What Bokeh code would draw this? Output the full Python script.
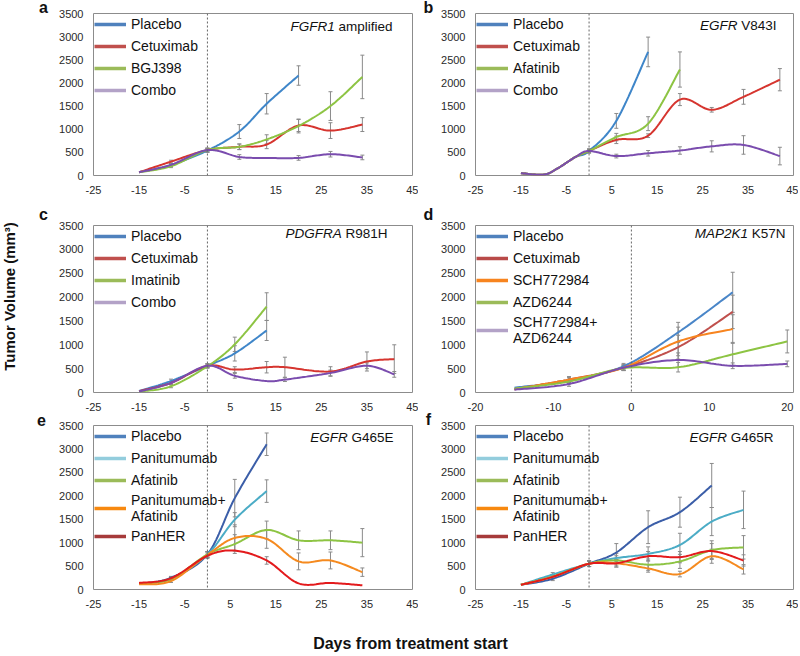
import numpy as np
from bokeh.plotting import figure
from bokeh.models import (Range1d, FixedTicker, Span, Whisker, TeeHead, ColumnDataSource,
                          Legend, LegendItem, Label)
from bokeh.layouts import row, column
from bokeh.embed import file_html
from bokeh.resources import INLINE

# ---------------- data ----------------
y_ticks = [0, 500, 1000, 1500, 2000, 2500, 3000, 3500]
x_ticks_std = [-25, -15, -5, 5, 15, 25, 35, 45]
x_ticks_d = [-20, -10, 0, 10, 20]

# panel a : FGFR1 amplified
a_days = [-15, -8, 0, 7, 13, 20, 27, 34]
a_placebo_days = [-15, -8, 0, 7, 13, 20]
a_placebo = [70, 230, 540, 950, 1550, 2160]
a_placebo_err = [0, 30, 40, 150, 220, 210]
a_cetuximab = [70, 300, 550, 620, 670, 1080, 970, 1100]
a_cetuximab_err = [0, 30, 40, 60, 90, 130, 170, 150]
a_bgj398 = [70, 200, 550, 620, 780, 1070, 1500, 2130]
a_bgj398_err = [0, 30, 40, 60, 100, 150, 310, 470]
a_combo = [70, 230, 550, 400, 380, 380, 460, 390]
a_combo_err = [0, 30, 40, 50, 0, 50, 60, 50]

# panel b : EGFR V843I
b_days = [-15, -10, -7, -3, 0, 6, 13, 20, 27, 34, 42]
b_placebo_days = [-15, -10, -7, -3, 0, 6, 13]
b_placebo = [50, 20, 150, 400, 530, 1180, 2670]
b_placebo_err = [0, 0, 0, 0, 40, 160, 320]
b_afatinib_days = [-15, -10, -7, -3, 0, 6, 13, 20]
b_afatinib = [50, 20, 150, 400, 530, 830, 1120, 2290]
b_afatinib_err = [0, 0, 0, 0, 40, 80, 150, 380]
b_cetuximab = [50, 20, 150, 400, 530, 770, 860, 1640, 1420, 1700, 2070]
b_cetuximab_err = [0, 0, 0, 0, 40, 80, 40, 130, 50, 160, 240]
b_combo = [50, 20, 150, 400, 530, 420, 480, 540, 630, 660, 420]
b_combo_err = [0, 0, 0, 0, 40, 40, 60, 80, 120, 200, 190]

# panel c : PDGFRA R981H
c_days = [-15, -8, 0, 6, 13, 17, 27, 35, 41]
c_short_days = [-15, -8, 0, 6, 13]
c_placebo = [30, 240, 560, 820, 1300]
c_placebo_err = [0, 40, 40, 160, 210]
c_cetuximab = [30, 200, 560, 480, 530, 530, 440, 650, 700]
c_cetuximab_err = [0, 30, 40, 60, 120, 210, 100, 200, 300]
c_imatinib = [20, 130, 550, 1010, 1800]
c_imatinib_err = [0, 30, 40, 150, 290]
c_combo = [20, 200, 560, 350, 240, 270, 410, 560, 380]
c_combo_err = [0, 30, 40, 50, 0, 40, 60, 60, 60]

# panel d : MAP2K1 K57N
d_days = [-15, -8, -1, 6, 13, 20]
d_short_days = [-15, -8, -1, 6, 13]
d_placebo = [100, 250, 550, 1260, 2100]
d_placebo_err = [0, 60, 60, 210, 420]
d_cetuximab = [70, 270, 520, 950, 1690]
d_cetuximab_err = [0, 60, 60, 250, 350]
d_sch = [70, 270, 520, 1070, 1330]
d_sch_err = [0, 60, 60, 300, 300]
d_azd = [80, 230, 510, 530, 800, 1070]
d_azd_err = [0, 50, 50, 100, 250, 240]
d_combo = [60, 180, 520, 680, 560, 600]
d_combo_err = [0, 50, 50, 150, 60, 60]

# panel e : EGFR G465E
e_days = [-15, -8, 0, 6, 13, 20, 27, 34]
e_short_days = [-15, -8, 0, 6, 13]
e_placebo = [120, 250, 750, 1950, 3100]
e_placebo_err = [0, 30, 60, 400, 240]
e_panitumumab = [130, 230, 750, 1490, 2100]
e_panitumumab_err = [0, 30, 60, 150, 240]
e_afatinib = [130, 220, 750, 970, 1270, 1050, 1050, 1000]
e_afatinib_err = [0, 30, 60, 200, 190, 200, 200, 300]
e_panafa = [110, 180, 740, 1100, 1080, 600, 620, 370]
e_panafa_err = [0, 30, 60, 280, 200, 180, 180, 90]
e_panher = [140, 240, 720, 830, 620, 130, 140, 90]
e_panher_err = [0, 30, 60, 0, 80, 0, 0, 0]

# panel f : EGFR G465R
f_days = [-15, -8, 0, 6, 13, 20, 27, 34]
f_placebo_days = [-15, -8, 0, 6, 13, 20, 27]
f_placebo = [100, 230, 550, 790, 1330, 1650, 2220]
f_placebo_err = [0, 40, 60, 190, 350, 320, 470]
f_panitumumab = [100, 320, 550, 670, 760, 950, 1450, 1700]
f_panitumumab_err = [0, 40, 60, 100, 150, 250, 300, 400]
f_afatinib = [100, 280, 550, 620, 530, 600, 840, 900]
f_afatinib_err = [0, 40, 60, 100, 120, 150, 200, 250]
f_panafa = [100, 270, 550, 560, 450, 330, 710, 430]
f_panafa_err = [0, 40, 60, 80, 80, 60, 150, 100]
f_panher = [100, 270, 550, 560, 710, 690, 820, 620]
f_panher_err = [0, 40, 60, 80, 100, 120, 160, 120]

# ---------------- styling ----------------
FONT = "Liberation Sans"
ERR_COL = "#8a8a8a"
TXT = "#111111"

# Arial / Liberation Sans advance widths (1/1000 em) for right-aligning mixed-style text
_W = dict(zip("ABCDEFGHIJKLMNOPQRSTUVWXYZ",
              [667, 667, 722, 722, 667, 611, 778, 722, 278, 500, 667, 556, 833, 722, 778,
               667, 778, 722, 667, 611, 722, 667, 944, 667, 667, 611]))
_W.update({c: 556 for c in "0123456789"})
_W.update({" ": 278, "a": 556, "m": 833, "p": 556, "l": 222, "i": 222, "f": 278,
           "e": 556, "d": 556})


def text_w(s, size):
    return sum(_W.get(c, 556) for c in s) / 1000.0 * size


def smooth(xs, ys, n=20):
    """Excel-like smoothed line (Catmull-Rom Bezier) through the given points."""
    P = np.column_stack([xs, ys]).astype(float)
    m = len(P)
    if m < 3:
        return list(P[:, 0]), list(P[:, 1])
    out = [P[0]]
    t = np.linspace(0, 1, n + 1)[1:, None]
    for i in range(m - 1):
        p0 = P[i - 1] if i > 0 else P[i]
        p1, p2 = P[i], P[i + 1]
        p3 = P[i + 2] if i + 2 < m else P[i + 1]
        b1 = p1 + (p2 - p0) / 6.0
        b2 = p2 - (p3 - p1) / 6.0
        seg = (1 - t) ** 3 * p1 + 3 * (1 - t) ** 2 * t * b1 + 3 * (1 - t) * t ** 2 * b2 + t ** 3 * p2
        out.extend(seg)
    out = np.array(out)
    return list(out[:, 0]), list(out[:, 1])


def make_panel(series, width, height, mbl, mbr, mbt, mbb, xr, xticks,
               gene, mutation, end_fx, fy):
    p = figure(width=width, height=height, x_range=Range1d(*xr), y_range=Range1d(0, 3500),
               output_backend="svg", toolbar_location=None,
               min_border_left=mbl, min_border_right=mbr, min_border_top=mbt, min_border_bottom=mbb)
    p.xgrid.visible = False
    p.ygrid.visible = False
    p.outline_line_color = "#8c8c8c"
    p.outline_line_width = 1
    p.xaxis.ticker = FixedTicker(ticks=xticks)
    p.yaxis.ticker = FixedTicker(ticks=y_ticks)
    p.xaxis.major_label_overrides = {t: str(t) for t in xticks}
    for ax in (p.xaxis[0], p.yaxis[0]):
        ax.axis_line_color = None
        ax.major_tick_line_color = None
        ax.minor_tick_line_color = None
        ax.major_tick_in = 0
        ax.major_tick_out = 0
        ax.major_label_text_font = FONT
        ax.major_label_text_font_size = "11px"
        ax.major_label_text_color = "#2a2a2a"
        ax.major_label_standoff = 10

    p.add_layout(Span(location=0, dimension="height", line_color="#666666",
                      line_width=1, line_dash="2 2"))

    items = []
    for label, days, vals, errs, lcol, gcol in series:
        sx, sy = smooth(days, vals)
        p.line(sx, sy, line_color=lcol, line_width=2)
        ex = [d for d, e in zip(days, errs) if e > 0]
        lo = [v - e for v, e in zip(vals, errs) if e > 0]
        hi = [v + e for v, e in zip(vals, errs) if e > 0]
        src = ColumnDataSource(dict(x=ex, lo=lo, hi=hi))
        p.add_layout(Whisker(source=src, base="x", lower="lo", upper="hi",
                             line_color=ERR_COL, line_width=1,
                             upper_head=TeeHead(size=4, line_color=ERR_COL, line_width=1),
                             lower_head=TeeHead(size=4, line_color=ERR_COL, line_width=1)))
        # legend swatch (legend colour differs slightly from the drawn line, as in the reference)
        sw = p.line(x=[np.nan], y=[np.nan], line_color=gcol, line_width=3.5)
        items.append(LegendItem(label=label, renderers=[sw]))

    leg = Legend(items=items, location="top_left", margin=1, padding=0, spacing=2,
                 label_height=20, glyph_width=32, glyph_height=20, label_standoff=5,
                 border_line_color=None, background_fill_alpha=0,
                 label_text_font=FONT, label_text_font_size="14px",
                 label_text_color=TXT, label_text_line_height=1.15)
    p.add_layout(leg)

    # gene annotation: italic gene + upright mutation, right-aligned near the top right
    fw = width - mbl - mbr
    fh = height - mbt - mbb

    def to_data(fx, fy_):
        return (xr[0] + fx / fw * (xr[1] - xr[0]), 3500 - fy_ / fh * 3500)

    size = 13.5
    mx, my = to_data(end_fx, fy)
    gx, _ = to_data(end_fx - text_w(" " + mutation, size), fy)
    p.add_layout(Label(x=mx, y=my, text=mutation, text_font=FONT, text_font_size=f"{size}px",
                       text_align="right", text_baseline="middle", text_color=TXT))
    p.add_layout(Label(x=gx, y=my, text=gene, text_font=FONT, text_font_size=f"{size}px",
                       text_font_style="italic", text_align="right", text_baseline="middle",
                       text_color=TXT))
    return p


# colours
BL, RD, GR, PU = "#3f86c9", "#d6352f", "#8dc443", "#7a4cae"
BLg, RDg, GRg, PUg = "#4f81bd", "#c0504d", "#9bbb59", "#b3a2c7"

# geometry (page pixels; Bokeh page has no body margin)
YS_W = 50           # left strip: y title + letters a, c, e
LW = 368            # left panels
MID_W = 18          # middle strip: letters b, d, f
RW = 362            # right panels
H1, H2, H3 = 205, 210, 197
XS_H = 42

pa = make_panel([
    ("Placebo", a_placebo_days, a_placebo, a_placebo_err, BL, BLg),
    ("Cetuximab", a_days, a_cetuximab, a_cetuximab_err, RD, RDg),
    ("BGJ398", a_days, a_bgj398, a_bgj398_err, GR, GRg),
    ("Combo", a_days, a_combo, a_combo_err, PU, PUg),
], LW, H1, 43, 6, 13, 30, (-25, 45), x_ticks_std, "FGFR1", "amplified", 299, 13)

pb = make_panel([
    ("Placebo", b_placebo_days, b_placebo, b_placebo_err, BL, BLg),
    ("Cetuximab", b_days, b_cetuximab, b_cetuximab_err, RD, RDg),
    ("Afatinib", b_afatinib_days, b_afatinib, b_afatinib_err, GR, GRg),
    ("Combo", b_days, b_combo, b_combo_err, PU, PUg),
], RW, H1, 39, 5, 13, 30, (-25, 45), x_ticks_std, "EGFR", "V843I", 301, 12)

pc = make_panel([
    ("Placebo", c_short_days, c_placebo, c_placebo_err, BL, BLg),
    ("Cetuximab", c_days, c_cetuximab, c_cetuximab_err, RD, RDg),
    ("Imatinib", c_short_days, c_imatinib, c_imatinib_err, GR, GRg),
    ("Combo", c_days, c_combo, c_combo_err, PU, PUg),
], LW, H2, 43, 6, 20, 23, (-25, 45), x_ticks_std, "PDGFRA", "R981H", 294, 8)

pd_ = make_panel([
    ("Placebo", d_short_days, d_placebo, d_placebo_err, "#4a86c8", BLg),
    ("Cetuximab", d_short_days, d_cetuximab, d_cetuximab_err, "#c0504d", "#b94a48"),
    ("SCH772984", d_short_days, d_sch, d_sch_err, "#f7841f", "#f7841f"),
    ("AZD6244", d_days, d_azd, d_azd_err, GR, GRg),
    ("SCH772984+\nAZD6244", d_days, d_combo, d_combo_err, PU, PUg),
], RW, H2, 39, 5, 20, 23, (-20, 20.8), x_ticks_d, "MAP2K1", "K57N", 310, 8)

pe = make_panel([
    ("Placebo", e_short_days, e_placebo, e_placebo_err, "#3b5ea8", BLg),
    ("Panitumumab", e_short_days, e_panitumumab, e_panitumumab_err, "#4bacc6", "#93cddd"),
    ("Afatinib", e_days, e_afatinib, e_afatinib_err, GR, GRg),
    ("Panitumumab+\nAfatinib", e_days, e_panafa, e_panafa_err, "#f58a1f", "#f7880f"),
    ("PanHER", e_days, e_panher, e_panher_err, "#e31a1c", "#a63a3a"),
], LW, H3, 43, 6, 10, 23, (-25, 45), x_ticks_std, "EGFR", "G465E", 300, 12)

pf = make_panel([
    ("Placebo", f_placebo_days, f_placebo, f_placebo_err, "#3b5ea8", BLg),
    ("Panitumumab", f_days, f_panitumumab, f_panitumumab_err, "#4bacc6", "#93cddd"),
    ("Afatinib", f_days, f_afatinib, f_afatinib_err, GR, GRg),
    ("Panitumumab+\nAfatinib", f_days, f_panafa, f_panafa_err, "#f58a1f", "#f7880f"),
    ("PanHER", f_days, f_panher, f_panher_err, "#e31a1c", "#a63a3a"),
], RW, H3, 39, 5, 10, 23, (-25, 45), x_ticks_std, "EGFR", "G465R", 298, 12)


def blank(width, height):
    q = figure(width=width, height=height, x_range=Range1d(0, width), y_range=Range1d(height, 0),
               output_backend="svg", toolbar_location=None,
               min_border_left=0, min_border_right=0, min_border_top=0, min_border_bottom=0)
    q.axis.visible = False
    q.grid.visible = False
    q.outline_line_color = None
    return q


def letter(q, text, x, y):
    q.add_layout(Label(x=x, y=y, text=text, text_font=FONT, text_font_size="16px",
                       text_font_style="bold", text_align="center", text_baseline="middle",
                       text_color=TXT))


TOTAL_H = H1 + H2 + H3 + XS_H
ystrip = blank(YS_W, TOTAL_H)
ystrip.add_layout(Label(x=9, y=296, text="Tumor Volume (mm³)", angle=np.pi / 2,
                        text_font=FONT, text_font_size="15px", text_font_style="bold",
                        text_align="center", text_baseline="middle", text_color=TXT))
letter(ystrip, "a", 43, 7)
letter(ystrip, "c", 43, 214)
letter(ystrip, "e", 41, 419)

mid = blank(MID_W, H1 + H2 + H3)
letter(mid, "b", 10, 7)
letter(mid, "d", 10, 214)
letter(mid, "f", 10, 419)

xstrip = blank(LW + MID_W + RW, XS_H)
xstrip.add_layout(Label(x=410 - YS_W, y=31, text="Days from treatment start",
                        text_font=FONT, text_font_size="16px", text_font_style="bold",
                        text_align="center", text_baseline="middle", text_color=TXT))

layout = row(ystrip,
             column(row(column(pa, pc, pe), mid, column(pb, pd_, pf)), xstrip))

open("out.html", "w").write(file_html(layout, INLINE))
